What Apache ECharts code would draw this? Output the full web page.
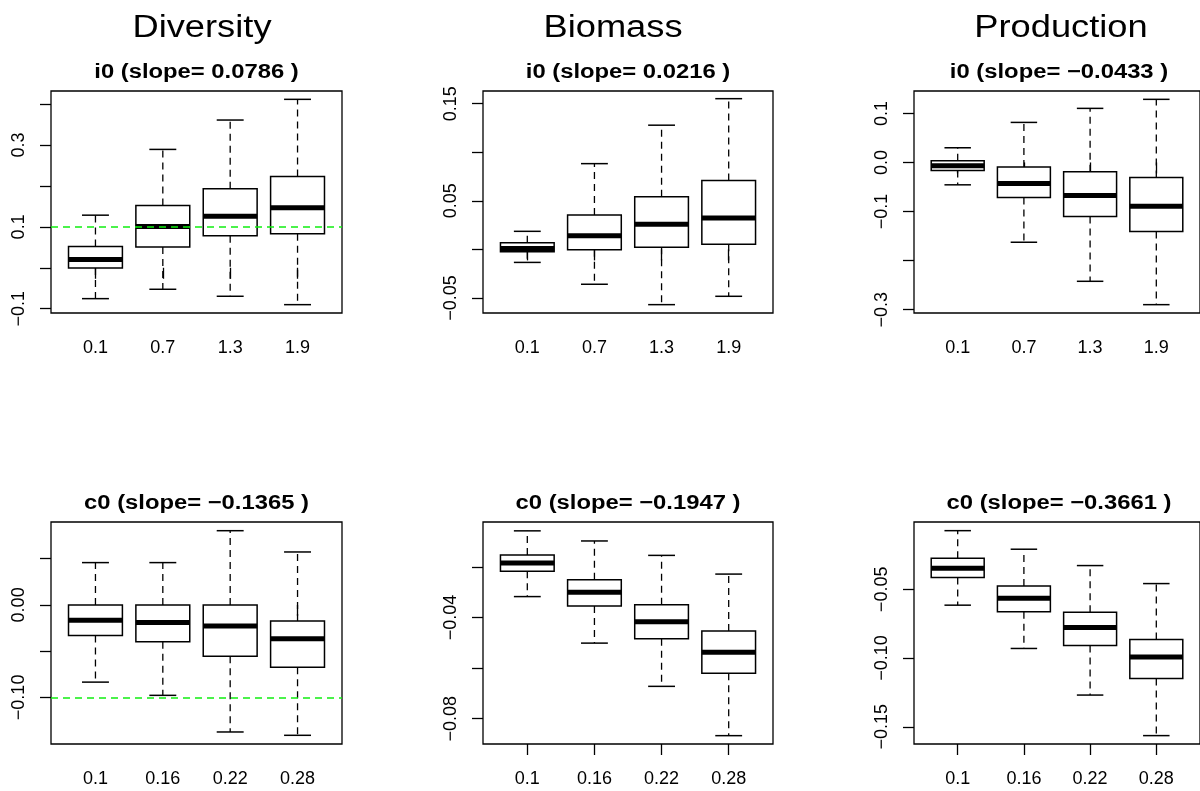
<!DOCTYPE html>
<html>
<head>
<meta charset="utf-8">
<script src="https://cdn.jsdelivr.net/npm/echarts@6/dist/echarts.min.js"></script>
<style>html,body{margin:0;padding:0;background:#fff}#chart{width:1200px;height:791px}</style>
</head>
<body>
<div id="chart"></div>
<script>
// ---- data ----
const columnTitles = ['Diversity', 'Biomass', 'Production'];
const xCatsI = ['0.1', '0.7', '1.3', '1.9'];
const xCatsC = ['0.1', '0.16', '0.22', '0.28'];
// each row: [lower whisker, Q1, median, Q3, upper whisker]
const diversityI0 = [[-0.0755, -0.0004, 0.0200, 0.0518, 0.1286], [-0.0526, 0.0510, 0.1008, 0.1522, 0.2894], [-0.0697, 0.0780, 0.1260, 0.1930, 0.3612], [-0.0902, 0.0829, 0.1465, 0.2232, 0.4118]];
const biomassI0 = [[-0.0134, -0.0025, 0.0008, 0.0068, 0.0186], [-0.0359, -0.0003, 0.0141, 0.0355, 0.0883], [-0.0569, 0.0021, 0.0259, 0.0541, 0.1279], [-0.0483, 0.0052, 0.0324, 0.0710, 0.1552]];
const productionI0 = [[-0.0456, -0.0163, -0.0068, 0.0034, 0.0299], [-0.1626, -0.0714, -0.0429, -0.0095, 0.0816], [-0.2422, -0.1102, -0.0673, -0.0190, 0.1102], [-0.2898, -0.1408, -0.0891, -0.0306, 0.1286]];
const diversityC0 = [[-0.0835, -0.0331, -0.0165, 0.0000, 0.0457], [-0.0978, -0.0399, -0.0191, 0.0000, 0.0457], [-0.1374, -0.0554, -0.0227, 0.0000, 0.0802], [-0.1410, -0.0673, -0.0367, -0.0173, 0.0572]];
const biomassC0 = [[-0.0317, -0.0217, -0.0184, -0.0153, -0.0057], [-0.0501, -0.0354, -0.0300, -0.0250, -0.0097], [-0.0672, -0.0484, -0.0417, -0.0349, -0.0154], [-0.0867, -0.0620, -0.0537, -0.0453, -0.0228]];
const productionC0 = [[-0.0615, -0.0414, -0.0346, -0.0274, -0.0073], [-0.0930, -0.0663, -0.0564, -0.0475, -0.0208], [-0.1269, -0.0908, -0.0777, -0.0666, -0.0327], [-0.1564, -0.1148, -0.0993, -0.0864, -0.0458]];
const panelTitles = ['i0 (slope= 0.0786 )', 'i0 (slope= 0.0216 )', 'i0 (slope= \u22120.0433 )', 'c0 (slope= \u22120.1365 )', 'c0 (slope= \u22120.1947 )', 'c0 (slope= \u22120.3661 )'];
// y tick values and labelled values
const yTicks = [[-0.1, 0, 0.1, 0.2, 0.3, 0.4], [-0.05, 0, 0.05, 0.1, 0.15], [-0.3, -0.2, -0.1, 0, 0.1], [-0.1, -0.05, 0, 0.05], [-0.08, -0.06, -0.04, -0.02], [-0.15, -0.1, -0.05]];
const yLabels = [[-0.1, 0.1, 0.3], [-0.05, 0.05, 0.15], [-0.3, -0.1, 0, 0.1], [-0.1, 0], [-0.08, -0.04], [-0.15, -0.1, -0.05]];
const yDecimals = [1, 2, 1, 2, 2, 2];
const yMins = [-0.1106, -0.0655, -0.3068, -0.1504, -0.0900, -0.1625];
const yMaxs = [0.4322, 0.1631, 0.1456, 0.0896, -0.0022, -0.0010];
const refLines = [0.1, null, null, -0.1, null, null];

const panelData = [diversityI0, biomassI0, productionI0, diversityC0, biomassC0, productionC0];
const panelCats = [xCatsI, xCatsI, xCatsI, xCatsC, xCatsC, xCatsC];

// ---- layout ----
const FONT = "'Liberation Sans', Arial, Helvetica, sans-serif";
const colLeft = [51, 483, 914];
const colWidth = [291, 290, 290];
const rowTop = [91, 522];
const plotH = 222;
const colTitleX = [202, 613, 1061];

const chart = echarts.init(document.getElementById('chart'), null, {renderer: 'canvas'});

const grids = [], xAxes = [], yAxes = [], series = [], graphics = [];

function fmt(v, d) {
  const s = Math.abs(v).toFixed(d);
  return (v < -1e-12 ? '\u2212' : '') + s;
}

function renderBox(params, api) {
  const x = api.value(0);
  const lo = api.value(1), q1 = api.value(2), md = api.value(3), q3 = api.value(4), hi = api.value(5);
  const c = api.coord([x, md]);
  const half = api.size([0.4, 0])[0];
  const capHalf = api.size([0.2, 0])[0];
  const yLo = api.coord([x, lo])[1], yQ1 = api.coord([x, q1])[1], yQ3 = api.coord([x, q3])[1], yHi = api.coord([x, hi])[1];
  const cx = c[0];
  const dash = {stroke: '#000', lineWidth: 1.3, lineDash: [7, 5], fill: null};
  const solid = {stroke: '#000', lineWidth: 1.5, fill: null};
  return {
    type: 'group',
    children: [
      {type: 'line', shape: {x1: cx, y1: yQ3, x2: cx, y2: yHi}, style: dash},
      {type: 'line', shape: {x1: cx, y1: yQ1, x2: cx, y2: yLo}, style: dash},
      {type: 'line', shape: {x1: cx - capHalf, y1: yHi, x2: cx + capHalf, y2: yHi}, style: solid},
      {type: 'line', shape: {x1: cx - capHalf, y1: yLo, x2: cx + capHalf, y2: yLo}, style: solid},
      {type: 'rect', shape: {x: cx - half, y: yQ3, width: 2 * half, height: yQ1 - yQ3}, style: {fill: '#fff', stroke: '#000', lineWidth: 1.5}},
      {type: 'line', shape: {x1: cx - half, y1: c[1], x2: cx + half, y2: c[1]}, style: {stroke: '#000', lineWidth: 5}}
    ]
  };
}

for (let p = 0; p < 6; p++) {
  const row = Math.floor(p / 3), col = p % 3;
  grids.push({left: colLeft[col], top: rowTop[row], width: colWidth[col], height: plotH, show: true, borderColor: '#000', borderWidth: 1.3, backgroundColor: 'transparent', containLabel: false});
  const cats = panelCats[p];
  xAxes.push({
    type: 'value', gridIndex: p, min: 0.34, max: 4.66,
    splitLine: {show: false}, axisLine: {show: false},
    axisTick: {show: true, length: 11, lineStyle: {color: '#000', width: 1.3}, customValues: [1, 2, 3, 4]},
    axisLabel: {show: true, margin: 26, fontSize: 18, color: '#000', fontFamily: FONT, customValues: [1, 2, 3, 4],
      formatter: (v) => cats[Math.round(v) - 1]}
  });
  const dec = yDecimals[p];
  yAxes.push({
    type: 'value', gridIndex: p, min: yMins[p], max: yMaxs[p],
    splitLine: {show: false}, axisLine: {show: false},
    axisTick: {show: true, length: 11, lineStyle: {color: '#000', width: 1.3}, customValues: yTicks[p]},
    axisLabel: {show: true, rotate: 90, margin: 23, fontSize: 18, color: '#000', fontFamily: FONT, customValues: yLabels[p],
      formatter: (v) => fmt(v, dec)}
  });
  const s = {
    type: 'custom', xAxisIndex: p, yAxisIndex: p, silent: true, clip: false,
    renderItem: renderBox,
    encode: {x: 0, y: [1, 2, 3, 4, 5]},
    data: panelData[p].map((r, i) => [i + 1].concat(r))
  };
  if (refLines[p] !== null) {
    s.markLine = {silent: true, symbol: 'none', z: 10, label: {show: false},
      lineStyle: {color: '#11ee11', type: [7, 5], width: 1.6},
      data: [{yAxis: refLines[p]}]};
  }
  series.push(s);
  // panel title
  graphics.push({type: 'text', x: colLeft[col] + colWidth[col] / 2, y: rowTop[row] - 19, scaleX: 1.19,
    style: {text: panelTitles[p], fontSize: 20, fontWeight: 'bold', fontFamily: FONT, fill: '#000',
      align: 'center', verticalAlign: 'middle', textAlign: 'center', textVerticalAlign: 'middle'}});
}
for (let c = 0; c < 3; c++) {
  graphics.push({type: 'text', x: colTitleX[c], y: 28, scaleX: 1.17,
    style: {text: columnTitles[c], fontSize: 31, fontFamily: FONT, fill: '#000',
      align: 'center', verticalAlign: 'middle', textAlign: 'center', textVerticalAlign: 'middle'}});
}

chart.setOption({
  animation: false,
  backgroundColor: '#fff',
  grid: grids,
  xAxis: xAxes,
  yAxis: yAxes,
  series: series,
  graphic: graphics
});
</script>
</body>
</html>
